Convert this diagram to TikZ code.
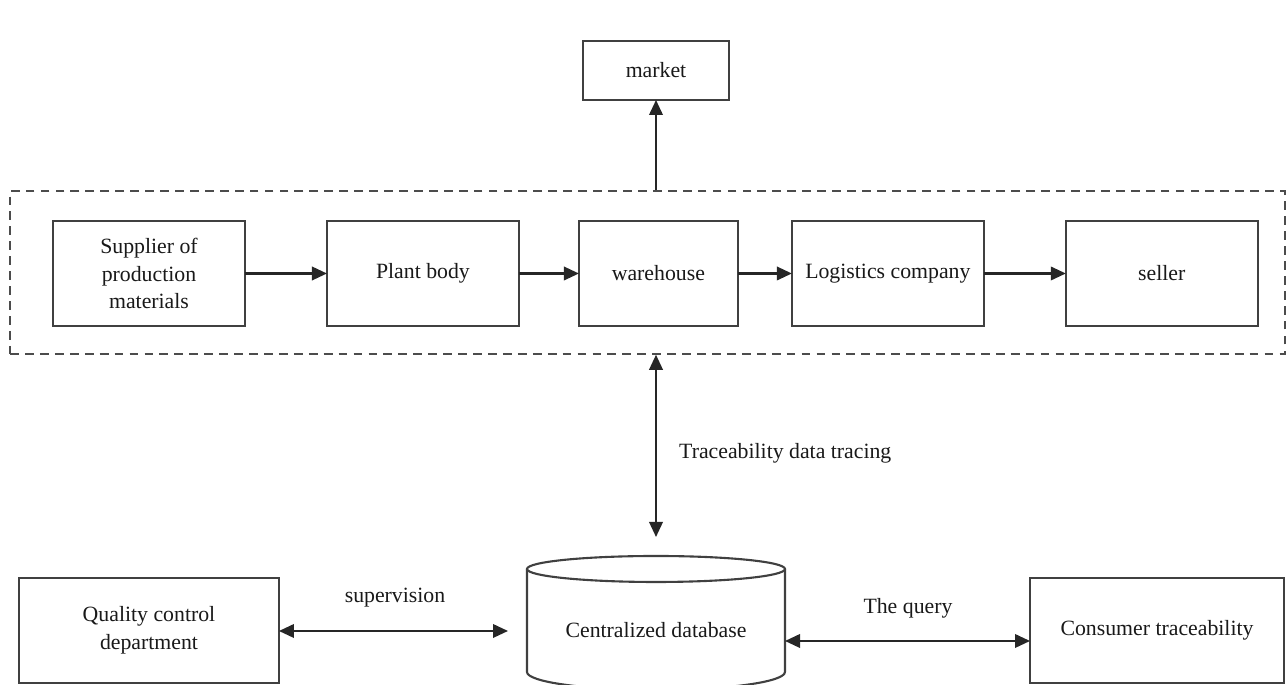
\documentclass[tikz,border=0pt]{standalone}
\usepackage{fontspec}
\setmainfont{Liberation Serif}
\usetikzlibrary{positioning, arrows.meta}

\begin{document}
\begin{tikzpicture}[x=0.02cm, y=0.02cm,
    every node/.style={font=\fontsize{12.4}{15.9}\selectfont, text=black!90},
    box/.style={draw=black!75, line width=1.2pt, fill=white, outer sep=0pt,
                minimum height=2.1cm, align=center},
    link/.style={draw=black!85, line width=1.2pt, -{Triangle[length=0.3cm, width=0.27cm]}},
    twoway/.style={link, {Triangle[length=0.3cm, width=0.27cm]}-{Triangle[length=0.3cm, width=0.27cm]}},
    dbline/.style={draw=black!75, line width=1.2pt},
]
\useasboundingbox (0,0) rectangle (1286,685);

% Dashed frame round the production chain
\node[draw=black!70, line width=0.9pt, dash pattern=on 5pt off 3.5pt,
      minimum width=25.5cm, minimum height=3.26cm] (chain) at (647.5,412.5) {};

% Production chain
\node[box, minimum width=3.84cm] (supplier) at (149,411.5) {Supplier of\\production\\materials};
\node[box, minimum width=3.84cm, right=1.64cm of supplier] (plant) {Plant body};
\node[box, minimum width=3.18cm, right=1.2cm of plant] (warehouse) {warehouse};
\node[box, minimum width=3.84cm, right=1.08cm of warehouse] (logistics) {Logistics company};
\node[box, minimum width=3.84cm, right=1.64cm of logistics] (seller) {seller};

\draw[link] (supplier) -- (plant);
\draw[link] (plant) -- (warehouse);
\draw[link] (warehouse) -- (logistics);
\draw[link] (logistics) -- (seller);

% Market
\node[box, minimum width=2.92cm, minimum height=1.18cm] (market) at (656,614.5) {market};
\draw[link] (market.south |- chain.north) -- (market.south);

% Centralized database as a cylinder
\draw[dbline] (656,116) ellipse[x radius=2.58cm, y radius=0.26cm];
\draw[dbline] (527,116) -- (527,13)
    arc[start angle=180, end angle=360, x radius=2.58cm, y radius=0.36cm] -- (785,116);
\node (db) at (656,55) {Centralized database};
\coordinate (dbtop) at (656,148);
\coordinate (dbleft) at (508,54);
\coordinate (dbright) at (785,44);

% Traceability link
\draw[twoway] (dbtop |- chain.south) -- (dbtop);
\node[anchor=west] (tracing) at (673,232) {Traceability data tracing};

% Quality control and consumers
\node[box, minimum width=5.2cm] (quality) at (149,54.5) {Quality control\\department};
\node[box, minimum width=5.08cm] (consumer) at (1157,54.5) {Consumer traceability};

\draw[twoway] (quality.east |- dbleft) -- (dbleft);
\node (supervision) at (395,87) {supervision};
\draw[twoway] (dbright) -- (dbright -| consumer.west);
\node (query) at (908,77) {The query};

\end{tikzpicture}
\end{document}
